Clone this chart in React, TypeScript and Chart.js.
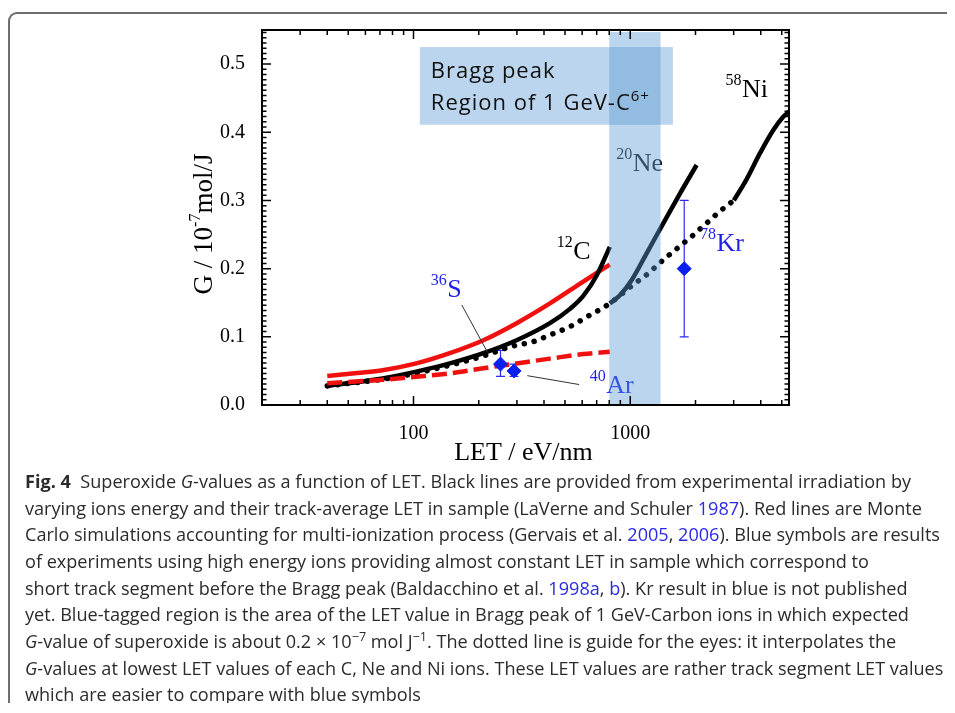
import React, { useEffect, useRef } from "react";
import { Chart, registerables } from "chart.js";

Chart.register(...registerables);

// ---------------- data ----------------
const redSolidLET = [40, 55, 72, 103, 147, 210, 299, 426, 607, 805];
const redSolidG = [0.0425, 0.047, 0.051, 0.061, 0.076, 0.095, 0.12, 0.149, 0.181, 0.206];

const redDashLET = [40, 72, 103, 147, 210, 299, 426, 607, 805];
const redDashG = [0.032, 0.037, 0.0415, 0.0465, 0.054, 0.061, 0.068, 0.0748, 0.078];

const carbonLET = [40, 72, 103, 147, 210, 299, 426, 527, 607, 700, 805];
const carbonG = [0.028, 0.039, 0.049, 0.061, 0.076, 0.095, 0.12, 0.141, 0.16, 0.19, 0.232];

const neonLET = [805, 896, 1014, 1190, 1420, 1695, 2024];
const neonG = [0.149, 0.161, 0.183, 0.2225, 0.2665, 0.31, 0.352];

const nickelLET = [3006, 3440, 3963, 4565, 5092, 5400];
const nickelG = [0.3, 0.331, 0.369, 0.403, 0.423, 0.43];

const guideLET = [40, 80, 150, 220, 280, 357, 426, 527, 652, 715, 805, 1051, 1169, 1286, 1434, 1579, 1755, 1918, 2112, 2331, 2545, 2783, 3006];
const guideG = [0.028, 0.04, 0.059, 0.074, 0.0855, 0.093, 0.1027, 0.115, 0.132, 0.139, 0.149, 0.1785, 0.189, 0.2005, 0.214, 0.225, 0.237, 0.247, 0.259, 0.271, 0.282, 0.292, 0.3];

const ionNames = ["36S", "40Ar", "78Kr"];
const ionLET = [252, 291, 1774];
const ionG = [0.06, 0.05, 0.2];
const ionErrLow = [0.042, 0.042, 0.1];
const ionErrHigh = [0.08, 0.06, 0.3];

const xTickLabels = [100, 1000];
const yTickValues = [0, 0.1, 0.2, 0.3, 0.4, 0.5];
const xMinorTicks = [20, 30, 40, 50, 60, 70, 80, 90, 200, 300, 400, 500, 600, 700, 800, 900, 2000, 3000, 4000, 5000];

const braggBand = [800, 1380];
const braggBox = { x0: 107, x1: 1573, y0: 0.411, y1: 0.525 };

// ion labels: superscript mass number, element, anchor (LET, G) of text start/baseline
const labelSup = ["12", "58", "20", "36", "40", "78"];
const labelMain = ["C", "Ni", "Ne", "S", "Ar", "Kr"];
const labelLET = [458, 2749, 861, 120, 651, 2096];
const labelG = [0.214, 0.452, 0.343, 0.158, 0.018, 0.226];
const labelColor = ["#000", "#000", "#1a1a1a", "#1f1fe8", "#1f1fe8", "#1f1fe8"];

// leader lines [LET0, G0, LET1, G1]
const leaderS = [167, 0.1467, 219, 0.078];
const leaderAr = [335, 0.043, 581, 0.03];

const SERIF = '"Liberation Serif", "Times New Roman", serif';
const SANS = '"Open Sans", "Noto Sans", sans-serif';

const pts = (xs: number[], ys: number[]) => xs.map((x, i) => ({ x, y: ys[i] }));

const overlayPlugin = {
  id: "overlay",
  beforeDatasetsDraw(chart: any) {
    const { ctx, scales } = chart;
    const xs = scales.x, ys = scales.y;
    ctx.save();
    ctx.strokeStyle = "#2b2bf0";
    ctx.lineWidth = 1.2;
    for (let i = 0; i < ionLET.length; i++) {
      const px = xs.getPixelForValue(ionLET[i]);
      const pLo = ys.getPixelForValue(ionErrLow[i]);
      const pHi = ys.getPixelForValue(ionErrHigh[i]);
      ctx.beginPath();
      ctx.moveTo(px, pLo);
      ctx.lineTo(px, pHi);
      ctx.moveTo(px - 4.5, pLo);
      ctx.lineTo(px + 4.5, pLo);
      ctx.moveTo(px - 4.5, pHi);
      ctx.lineTo(px + 4.5, pHi);
      ctx.stroke();
    }
    ctx.restore();
  },
  afterDatasetsDraw(chart: any) {
    const { ctx, scales, chartArea } = chart;
    const xs = scales.x, ys = scales.y;
    ctx.save();
    // leader lines
    ctx.strokeStyle = "#333";
    ctx.lineWidth = 1;
    for (const l of [leaderS, leaderAr]) {
      ctx.beginPath();
      ctx.moveTo(xs.getPixelForValue(l[0]), ys.getPixelForValue(l[1]));
      ctx.lineTo(xs.getPixelForValue(l[2]), ys.getPixelForValue(l[3]));
      ctx.stroke();
    }
    // ion labels
    ctx.textBaseline = "alphabetic";
    ctx.textAlign = "left";
    for (let i = 0; i < labelMain.length; i++) {
      const px = xs.getPixelForValue(labelLET[i]);
      const py = ys.getPixelForValue(labelG[i]);
      ctx.fillStyle = labelColor[i];
      ctx.font = `16px ${SERIF}`;
      ctx.fillText(labelSup[i], px, py - 12);
      const w = ctx.measureText(labelSup[i]).width;
      ctx.font = `26px ${SERIF}`;
      ctx.fillText(labelMain[i], px + w + 0.5, py);
    }
    // Bragg peak band
    ctx.fillStyle = "rgba(91,155,213,0.42)";
    const bx0 = xs.getPixelForValue(braggBand[0]);
    const bx1 = xs.getPixelForValue(braggBand[1]);
    const by0 = ys.getPixelForValue(0.547);
    ctx.fillRect(bx0, by0, bx1 - bx0, chartArea.bottom - by0);
    // text box
    const tx0 = xs.getPixelForValue(braggBox.x0);
    const tx1 = xs.getPixelForValue(braggBox.x1);
    const ty0 = ys.getPixelForValue(braggBox.y1);
    const ty1 = ys.getPixelForValue(braggBox.y0);
    ctx.fillRect(tx0, ty0, tx1 - tx0, ty1 - ty0);
    ctx.fillStyle = "#111";
    ctx.font = `22px ${SANS}`;
    (ctx as any).letterSpacing = "1px";
    ctx.fillText("Bragg peak", tx0 + 11, ty0 + 31);
    const line2 = "Region of 1 GeV-C";
    ctx.fillText(line2, tx0 + 11, ty0 + 63);
    const w2 = ctx.measureText(line2).width;
    ctx.font = `15px ${SANS}`;
    ctx.fillText("6+", tx0 + 11 + w2, ty0 + 54);
    (ctx as any).letterSpacing = "0px";
    ctx.restore();
  },
  afterDraw(chart: any) {
    const { ctx, scales, chartArea } = chart;
    const xs = scales.x, ys = scales.y;
    const { left, right, top, bottom } = chartArea;
    ctx.save();
    ctx.strokeStyle = "#000";
    // ticks
    ctx.lineWidth = 1.5;
    ctx.beginPath();
    for (const v of xMinorTicks) {
      const px = xs.getPixelForValue(v);
      if (px <= left + 1 || px >= right - 1) continue;
      ctx.moveTo(px, bottom);
      ctx.lineTo(px, bottom - 5);
      ctx.moveTo(px, top);
      ctx.lineTo(px, top + 5);
    }
    for (const v of xTickLabels) {
      const px = xs.getPixelForValue(v);
      ctx.moveTo(px, bottom);
      ctx.lineTo(px, bottom - 9);
      ctx.moveTo(px, top);
      ctx.lineTo(px, top + 9);
    }
    const sub = 13;
    for (let k = 0; k <= 5 * sub + 7; k++) {
      const v = (k * 0.1) / sub;
      if (v > 0.55) break;
      const py = ys.getPixelForValue(v);
      const major = k % sub === 0;
      const len = major ? 9 : 4.5;
      ctx.moveTo(left, py);
      ctx.lineTo(left + len, py);
      ctx.moveTo(right, py);
      ctx.lineTo(right - len, py);
    }
    ctx.stroke();
    // frame
    ctx.lineWidth = 2;
    ctx.strokeRect(left, top, right - left, bottom - top);
    // x title
    ctx.fillStyle = "#000";
    ctx.textAlign = "center";
    ctx.textBaseline = "alphabetic";
    ctx.font = `26px ${SERIF}`;
    ctx.fillText("LET / eV/nm", (left + right) / 2 - 2, bottom + 55);
    // y title (rotated)
    ctx.translate(left - 50, 204);
    ctx.rotate(-Math.PI / 2);
    ctx.textAlign = "left";
    const p1 = "G / 10", p2 = "-7", p3 = "mol/J";
    ctx.font = `27px ${SERIF}`;
    const w1 = ctx.measureText(p1).width;
    const w3 = ctx.measureText(p3).width;
    ctx.font = `16px ${SERIF}`;
    const wsup = ctx.measureText(p2).width;
    const total = w1 + wsup + w3;
    let x = -total / 2;
    ctx.font = `27px ${SERIF}`;
    ctx.fillText(p1, x, 0);
    x += w1;
    ctx.font = `16px ${SERIF}`;
    ctx.fillText(p2, x, -12);
    x += wsup;
    ctx.font = `27px ${SERIF}`;
    ctx.fillText(p3, x, 0);
    ctx.restore();
  },
};

export default function App() {
  const ref = useRef<HTMLCanvasElement>(null);

  useEffect(() => {
    const canvas = ref.current;
    if (!canvas) return;
    const line = (data: any[], color: string, extra: any = {}) => ({
      data,
      showLine: true,
      borderColor: color,
      backgroundColor: color,
      borderWidth: 4.5,
      pointRadius: 0,
      cubicInterpolationMode: "monotone",
      fill: false,
      ...extra,
    });
    const chart = new Chart(canvas, {
      type: "scatter",
      data: {
        datasets: [
          {
            label: "ions",
            data: pts(ionLET, ionG),
            showLine: false,
            pointStyle: "rectRot",
            pointRadius: 7,
            backgroundColor: "#0a1ef0",
            borderColor: "#0a1ef0",
            borderWidth: 1,
          } as any,
          line(pts(redDashLET, redDashG), "#f01010", { borderDash: [15, 6] }),
          line(pts(carbonLET, carbonG), "#000"),
          line(pts(redSolidLET, redSolidG), "#f01010"),
          line(pts(neonLET, neonG), "#000"),
          line(pts(nickelLET, nickelG), "#000"),
          line(pts(guideLET, guideG), "#000", {
            borderDash: [0.1, 10],
            borderCapStyle: "round",
            borderWidth: 5.5,
          }),
        ],
      },
      options: {
        animation: false,
        responsive: false,
        events: [],
        layout: { padding: { top: 10, right: 61, left: 0, bottom: 0 } },
        plugins: { legend: { display: false }, tooltip: { enabled: false } },
        scales: {
          x: {
            type: "logarithmic",
            min: 20,
            max: 5400,
            grid: { display: false },
            border: { display: false },
            ticks: {
              autoSkip: false,
              maxRotation: 0,
              padding: 9,
              color: "#000",
              font: { family: SERIF, size: 20 },
              callback: (v: any) => (xTickLabels.includes(Number(v)) ? String(v) : ""),
            },
            afterBuildTicks: (s: any) => {
              s.ticks = xTickLabels.map((v) => ({ value: v }));
            },
            afterFit: (s: any) => {
              s.height = 75;
              s.paddingLeft = 0;
              s.paddingRight = 0;
            },
          },
          y: {
            type: "linear",
            min: 0,
            max: 0.55,
            grid: { display: false },
            border: { display: false },
            ticks: {
              padding: 9,
              color: "#000",
              font: { family: SERIF, size: 20 },
              callback: (v: any) => Number(v).toFixed(1),
            },
            afterBuildTicks: (s: any) => {
              s.ticks = yTickValues.map((v) => ({ value: v }));
            },
            afterFit: (s: any) => {
              s.width = 112;
              s.paddingTop = 0;
              s.paddingBottom = 0;
            },
          },
        },
      } as any,
      plugins: [overlayPlugin],
    });
    return () => chart.destroy();
  }, []);

  const link: React.CSSProperties = { color: "#2a2ae6" };
  const sup: React.CSSProperties = { fontSize: "0.7em", lineHeight: 0 };

  return (
    <div style={{ position: "relative", width: 947, height: 695 }}>
      <div
        style={{
          position: "absolute",
          left: 0,
          top: 4,
          width: 947,
          height: 691,
          borderTop: "2px solid #6e6e6e",
          borderLeft: "2px solid #6e6e6e",
          borderTopLeftRadius: 9,
          boxSizing: "border-box",
        }}
      />
      <canvas
        ref={ref}
        width={700}
        height={460}
        style={{ position: "absolute", left: 142, top: 12, width: 700, height: 460 }}
      />
      <div
        style={{
          position: "absolute",
          left: 17,
          top: 460,
          fontFamily: SANS,
          fontSize: 18.1,
          lineHeight: "26.66px",
          color: "#2b2b2b",
          whiteSpace: "nowrap",
        }}
      >
        <b>Fig. 4</b>&nbsp; Superoxide <i>G</i>-values as a function of LET. Black lines are provided from experimental irradiation by
        <br />
        varying ions energy and their track-average LET in sample (LaVerne and Schuler <span style={link}>1987</span>). Red lines are Monte
        <br />
        Carlo simulations accounting for multi-ionization process (Gervais et al. <span style={link}>2005</span>, <span style={link}>2006</span>). Blue symbols are results
        <br />
        of experiments using high energy ions providing almost constant LET in sample which correspond to
        <br />
        short track segment before the Bragg peak (Baldacchino et al. <span style={link}>1998a</span>, <span style={link}>b</span>). Kr result in blue is not published
        <br />
        yet. Blue-tagged region is the area of the LET value in Bragg peak of 1 GeV-Carbon ions in which expected
        <br />
        <i>G</i>-value of superoxide is about 0.2 × 10<sup style={sup}>−7</sup> mol J<sup style={sup}>−1</sup>. The dotted line is guide for the eyes: it interpolates the
        <br />
        <i>G</i>-values at lowest LET values of each C, Ne and Ni ions. These LET values are rather track segment LET values
        <br />
        which are easier to compare with blue symbols
      </div>
    </div>
  );
}
